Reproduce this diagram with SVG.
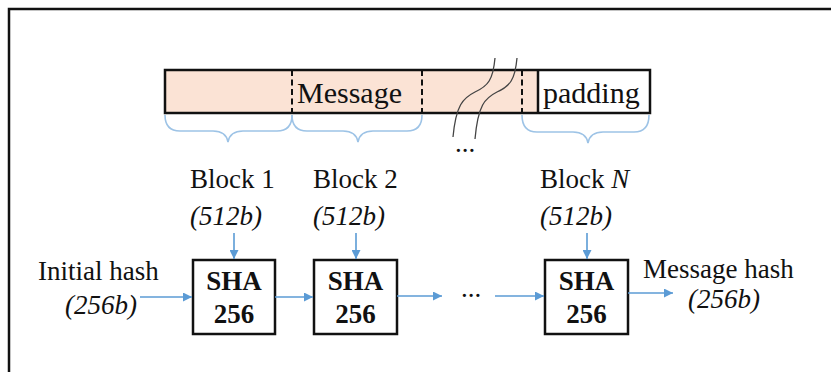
<svg xmlns="http://www.w3.org/2000/svg" width="831" height="372" viewBox="0 0 831 372">
  <style>
    .t { font-family: "Liberation Serif", "Times New Roman", serif; fill: #111; }
    .lbl { font-size: 27px; }
    .it { font-style: italic; }
    .bar { font-size: 30px; }
    .sha { font-size: 27px; font-weight: bold; text-anchor: middle; }
    .box { fill: #fff; stroke: #111; stroke-width: 2.5; }
    .flow { stroke: #5B9BD5; stroke-width: 1.6; fill: none; marker-end: url(#ah); }
    .brace { stroke: #9DC3E6; stroke-width: 1.6; fill: none; }
    .cut { stroke: #111; stroke-width: 2; stroke-dasharray: 6 3.5; }
    .brk { stroke: #444; stroke-width: 1.3; fill: none; }
  </style>
  <defs>
    <marker id="ah" viewBox="0 0 10 10" refX="10" refY="5" markerWidth="9" markerHeight="9" markerUnits="userSpaceOnUse" orient="auto">
      <path d="M0,0 L10,5 L0,10 z" fill="#5B9BD5"/>
    </marker>
  </defs>

  <!-- frame -->
  <path d="M9,372 V9 H831" fill="none" stroke="#111" stroke-width="2.5"/>

  <!-- message bar -->
  <g id="message-bar">
    <rect x="165" y="70" width="373" height="43" fill="#FBE3D5"/>
    <rect x="538" y="70" width="112" height="43" fill="#fff"/>
    <line class="cut" x1="292" y1="70" x2="292" y2="113"/>
    <line class="cut" x1="422" y1="70" x2="422" y2="113"/>
    <line class="cut" x1="522" y1="70" x2="522" y2="113"/>
    <line x1="538" y1="70" x2="538" y2="113" stroke="#111" stroke-width="2.5"/>
    <rect x="165" y="70" width="485" height="43" fill="none" stroke="#111" stroke-width="2.5"/>
    <text class="t bar" x="297" y="103">Message</text>
    <text class="t bar" x="543" y="103">padding</text>
    <path class="brk" d="M495,58 C493,80 488,86 475,92 C463,98 456,105 453,137"/>
    <path class="brk" d="M517,58 C515,80 510,86 497,92 C485,98 478,105 475,139"/>
    <text class="t lbl" x="465" y="152" text-anchor="middle">...</text>
  </g>

  <!-- braces -->
  <g id="braces">
    <path class="brace" d="M165,115 Q165,131 180,131 H213 Q226,131 228,142 Q230,131 243,131 H277 Q292,131 292,115"/>
    <path class="brace" d="M292,115 Q292,131 307,131 H343 Q356,131 358,142 Q360,131 373,131 H407 Q422,131 422,115"/>
    <path class="brace" d="M522,115 Q522,132 537,132 H573 Q586,132 588,143 Q590,132 603,132 H634 Q649,132 649,115"/>
  </g>

  <!-- block labels -->
  <g id="block-1">
    <text class="t lbl" x="190" y="188">Block 1</text>
    <text class="t lbl it" x="190" y="225">(512b)</text>
  </g>
  <g id="block-2">
    <text class="t lbl" x="313" y="188">Block 2</text>
    <text class="t lbl it" x="313" y="225">(512b)</text>
  </g>
  <g id="block-n">
    <text class="t lbl" x="540" y="188">Block <tspan class="it">N</tspan></text>
    <text class="t lbl it" x="540" y="225">(512b)</text>
  </g>

  <!-- hash inputs / outputs -->
  <g id="initial-hash">
    <text class="t lbl" x="38" y="280">Initial hash</text>
    <text class="t lbl it" x="65" y="314">(256b)</text>
  </g>
  <g id="message-hash">
    <text class="t lbl" x="643" y="278">Message hash</text>
    <text class="t lbl it" x="688" y="308">(256b)</text>
  </g>

  <!-- compression stages -->
  <g id="sha-1">
    <rect class="box" x="193" y="260" width="82" height="74"/>
    <text class="t sha" x="234" y="290">SHA</text>
    <text class="t sha" x="234" y="323">256</text>
  </g>
  <g id="sha-2">
    <rect class="box" x="314" y="260" width="83" height="74"/>
    <text class="t sha" x="355.5" y="290">SHA</text>
    <text class="t sha" x="355.5" y="323">256</text>
  </g>
  <g id="sha-n">
    <rect class="box" x="545" y="260" width="83" height="74"/>
    <text class="t sha" x="586.5" y="290">SHA</text>
    <text class="t sha" x="586.5" y="323">256</text>
  </g>
  <text class="t lbl" x="471" y="297" text-anchor="middle">...</text>

  <!-- connectors -->
  <g id="connectors">
    <line class="flow" x1="234" y1="233" x2="234" y2="259"/>
    <line class="flow" x1="356" y1="233" x2="356" y2="259"/>
    <line class="flow" x1="587" y1="233" x2="587" y2="259"/>
    <line class="flow" x1="140" y1="297" x2="192" y2="297"/>
    <line class="flow" x1="275" y1="297" x2="313" y2="297"/>
    <line class="flow" x1="397" y1="296" x2="442" y2="296"/>
    <line class="flow" x1="495" y1="296" x2="544" y2="296"/>
    <line class="flow" x1="628" y1="293" x2="673" y2="293"/>
  </g>
</svg>
